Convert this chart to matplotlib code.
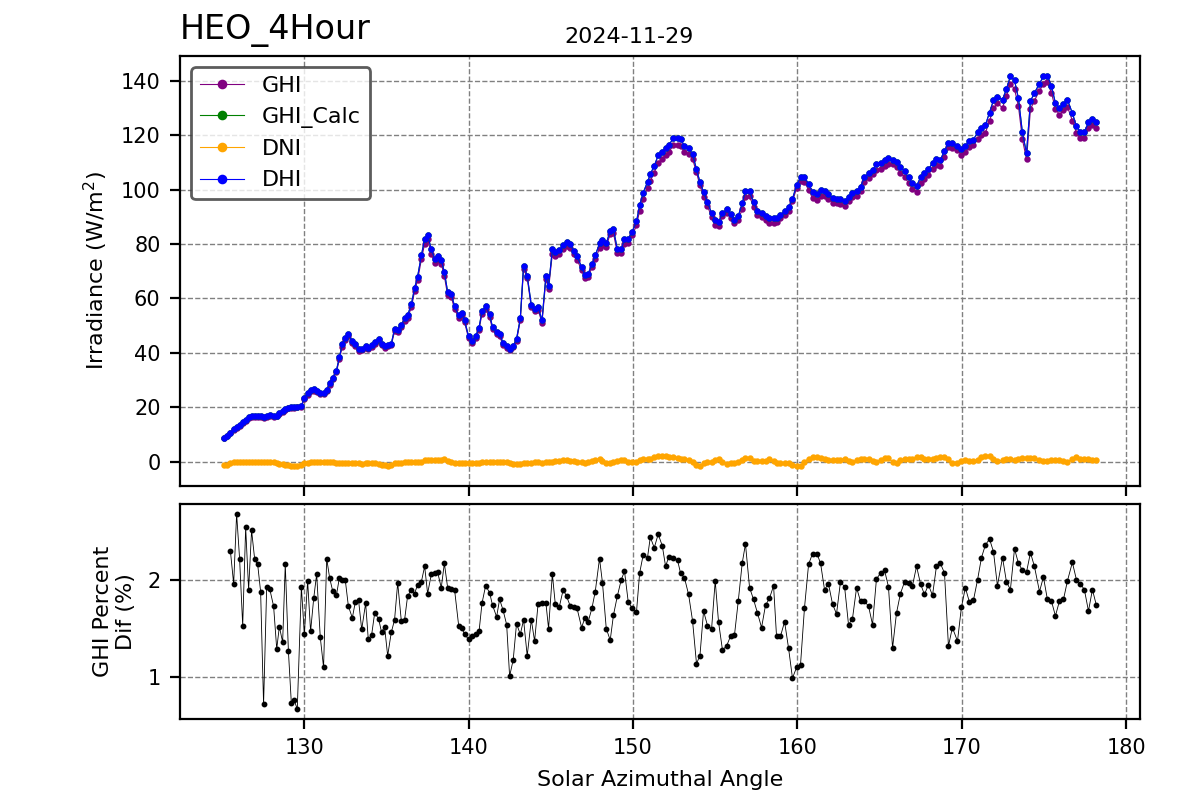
import numpy as np
import matplotlib
matplotlib.use("Agg")
import matplotlib.pyplot as plt
from matplotlib.ticker import MultipleLocator

site = "HEO_4Hour"
day = "2024-11-29"

azimuth = [125.09, 125.30, 125.50, 125.70, 125.88, 126.06, 126.25, 126.43, 126.61, 126.79,
           126.98, 127.16, 127.34, 127.52, 127.71, 127.89, 128.13, 128.32, 128.48, 128.68,
           128.84, 129.03, 129.21, 129.39, 129.57, 129.82, 130.00, 130.20, 130.38, 130.57,
           130.75, 130.97, 131.17, 131.36, 131.54, 131.72, 131.95, 132.13, 132.31, 132.49,
           132.68, 132.92, 133.10, 133.30, 133.49, 133.73, 133.89, 134.09, 134.28, 134.52,
           134.70, 134.88, 135.07, 135.29, 135.49, 135.68, 135.90, 136.10, 136.28, 136.51,
           136.71, 136.89, 137.12, 137.32, 137.50, 137.73, 137.93, 138.11, 138.33, 138.52,
           138.72, 138.94, 139.14, 139.39, 139.57, 139.75, 139.99, 140.20, 140.42, 140.63,
           140.81, 141.03, 141.27, 141.45, 141.70, 141.88, 142.09, 142.31, 142.49, 142.71,
           142.91, 143.14, 143.34, 143.56, 143.81, 144.01, 144.22, 144.46, 144.70, 144.86,
           145.09, 145.27, 145.51, 145.75, 145.96, 146.18, 146.38, 146.59, 146.87, 147.07,
           147.27, 147.50, 147.70, 147.96, 148.14, 148.37, 148.61, 148.81, 149.04, 149.28,
           149.48, 149.71, 149.95, 150.21, 150.40, 150.62, 150.88, 151.05, 151.29, 151.53,
           151.78, 151.98, 152.18, 152.46, 152.71, 152.89, 153.13, 153.38, 153.62, 153.86,
           154.07, 154.29, 154.53, 154.78, 155.00, 155.20, 155.44, 155.69, 155.93, 156.17,
           156.40, 156.64, 156.84, 157.09, 157.33, 157.57, 157.82, 158.06, 158.30, 158.55,
           158.73, 158.97, 159.22, 159.46, 159.70, 159.95, 160.19, 160.43, 160.68, 160.92,
           161.19, 161.41, 161.65, 161.89, 162.14, 162.38, 162.62, 162.87, 163.11, 163.35,
           163.60, 163.84, 164.08, 164.33, 164.57, 164.81, 165.06, 165.30, 165.54, 165.79,
           166.03, 166.27, 166.52, 166.76, 167.00, 167.25, 167.49, 167.73, 167.97, 168.22,
           168.46, 168.70, 168.95, 169.19, 169.43, 169.74, 169.98, 170.22, 170.47, 170.71,
           170.96, 171.20, 171.44, 171.69, 171.93, 172.17, 172.48, 172.72, 172.96, 173.21,
           173.45, 173.69, 173.94, 174.18, 174.42, 174.73, 174.97, 175.21, 175.46, 175.70,
           175.94, 176.19, 176.43, 176.73, 176.98, 177.22, 177.46, 177.71, 177.95, 178.19]

dhi = [8.7, 9.6, 10.7, 11.9, 12.6, 13.5, 14.5, 15.3, 16.3, 16.8,
       16.9, 16.9, 16.8, 16.3, 16.9, 17.1, 16.9, 17.0, 17.8, 18.5,
       19.3, 19.9, 20.0, 20.0, 20.1, 20.6, 23.5, 25.2, 26.5, 26.6,
       26.1, 25.3, 25.3, 26.4, 28.9, 30.9, 33.5, 38.4, 43.2, 45.6,
       47.0, 44.3, 43.3, 41.5, 41.6, 42.5, 41.9, 42.9, 44.0, 45.0,
       43.4, 42.6, 43.0, 43.4, 48.8, 48.5, 50.2, 52.7, 53.8, 57.8,
       63.9, 68.0, 75.8, 81.9, 83.3, 78.0, 74.6, 75.5, 74.2, 69.7,
       62.4, 61.8, 57.1, 53.8, 54.6, 52.0, 46.1, 44.3, 46.1, 49.3,
       55.4, 57.1, 54.2, 49.5, 47.6, 47.0, 43.7, 42.6, 41.4, 42.6,
       45.1, 52.7, 72.1, 68.4, 57.6, 56.1, 56.9, 52.0, 68.4, 64.5,
       78.0, 77.0, 77.7, 79.7, 80.7, 80.0, 77.5, 75.5, 71.6, 68.6,
       69.1, 72.6, 75.8, 80.2, 81.4, 80.2, 84.9, 85.4, 78.2, 78.2,
       81.7, 81.9, 84.6, 88.3, 94.2, 98.9, 102.8, 105.7, 108.7, 112.6,
       113.9, 115.3, 116.5, 118.8, 118.8, 118.5, 116.1, 115.3, 113.1, 107.5,
       102.8, 99.1, 95.4, 91.3, 88.8, 88.1, 91.3, 92.7, 91.0, 88.8,
       90.3, 94.9, 99.6, 99.4, 95.4, 92.2, 91.3, 90.3, 89.5, 89.5,
       89.5, 90.8, 92.0, 93.5, 96.6, 101.6, 104.5, 104.5, 102.1, 99.1,
       98.4, 99.9, 99.6, 98.4, 96.9, 96.6, 96.4, 95.7, 97.2, 98.9,
       99.6, 101.1, 104.5, 106.0, 107.2, 109.4, 109.9, 110.9, 111.6, 110.9,
       110.2, 108.2, 106.7, 104.5, 102.3, 101.3, 104.5, 106.0, 107.5, 109.7,
       111.2, 110.9, 114.3, 117.1, 117.1, 116.1, 114.8, 116.1, 117.8, 118.3,
       121.0, 122.7, 123.7, 128.3, 132.8, 134.2, 133.0, 137.0, 141.6, 140.1,
       133.5, 121.0, 113.4, 132.5, 135.5, 138.9, 141.6, 141.9, 137.9, 131.8,
       129.8, 131.5, 133.0, 128.1, 123.2, 121.2, 121.2, 124.7, 125.9, 124.7]

dni = [-1.3, -1.0, -0.3, -0.1, -0.1, -0.1, 0.0, 0.0, -0.1, -0.1,
       -0.1, -0.1, -0.1, 0.0, 0.0, 0.0, -0.2, -0.5, -0.8, -0.9,
       -1.0, -1.3, -1.6, -1.7, -1.6, -1.2, -0.6, -0.3, -0.1, -0.1,
       -0.1, -0.1, 0.0, -0.1, -0.1, -0.2, -0.3, -0.4, -0.4, -0.3,
       -0.4, -0.5, -0.6, -0.6, -0.7, -0.6, -0.6, -0.6, -0.5, -0.8,
       -1.1, -1.3, -1.4, -1.0, -0.6, -0.5, -0.4, -0.2, 0.0, 0.0,
       0.0, 0.1, 0.1, 0.5, 0.8, 0.7, 0.7, 0.5, 0.8, 0.9,
       0.3, -0.2, -0.3, -0.4, -0.5, -0.6, -0.6, -0.6, -0.5, -0.4,
       -0.2, 0.0, 0.0, -0.1, 0.0, 0.0, 0.0, -0.2, -0.5, -0.7,
       -0.8, -0.7, -0.6, -0.6, -0.4, -0.2, -0.2, -0.3, -0.1, 0.0,
       0.1, 0.3, 0.3, 0.5, 0.6, 0.4, 0.2, 0.0, -0.2, -0.3,
       -0.2, 0.3, 0.8, 0.9, 0.4, -0.4, -0.6, 0.0, 0.4, 0.6,
       0.5, -0.1, -0.2, 0.0, 0.6, 0.9, 1.0, 1.2, 1.6, 2.0,
       2.2, 2.0, 1.8, 1.8, 1.5, 1.2, 0.9, 0.6, 0.0, -1.0,
       -1.5, -0.5, -0.1, -0.1, 0.5, 0.9, 0.1, -0.7, -0.6, -0.5,
       0.0, 0.6, 1.5, 1.3, 0.4, 0.2, 0.2, 0.4, 1.0, 0.3,
       -0.3, -0.4, -0.3, -0.6, -1.2, -1.6, -1.4, 0.0, 1.2, 1.8,
       1.8, 1.5, 1.1, 0.8, 0.6, 0.5, 0.8, 1.1, 0.3, -0.1,
       0.5, 1.0, 1.1, 1.0, 0.3, -0.1, 0.8, 1.4, 1.3, 0.0,
       -0.3, 0.5, 1.0, 1.1, 1.1, 1.6, 1.6, 1.2, 1.1, 1.1,
       1.4, 1.7, 1.8, 1.2, -0.4, -0.6, 0.2, 0.5, 0.3, 0.2,
       0.8, 1.6, 2.0, 2.1, 1.2, 0.3, 0.5, 0.9, 0.9, 0.5,
       1.0, 1.4, 1.5, 1.5, 1.4, 0.8, 0.3, 0.2, 0.5, 0.6,
       0.6, 0.2, 0.0, 1.0, 1.8, 1.2, 0.9, 0.9, 0.5, 0.5]

# percent difference between GHI_Calc and GHI (first two samples have none)
pct_dif = [np.nan, np.nan,
           2.30, 1.96, 2.68, 2.22, 1.53, 2.54, 1.90, 2.51, 2.21, 2.16,
           1.88, 0.72, 1.93, 1.91, 1.73, 1.29, 1.52, 1.36, 2.16, 1.27,
           0.73, 0.76, 0.67, 1.93, 1.44, 1.99, 1.47, 1.81, 2.06, 1.41,
           1.10, 2.22, 2.02, 1.89, 1.84, 2.02, 2.00, 2.00, 1.73, 1.61,
           1.77, 1.79, 1.49, 1.76, 1.39, 1.43, 1.66, 1.60, 1.46, 1.52,
           1.22, 1.46, 1.59, 1.97, 1.58, 1.59, 1.83, 1.90, 1.86, 1.95,
           1.98, 2.14, 1.86, 2.06, 2.07, 2.08, 1.92, 2.17,
           1.92, 1.91, 1.90, 1.53, 1.51, 1.44, 1.39, 1.42, 1.44, 1.47,
           1.76, 1.94, 1.87, 1.74, 1.62, 1.80, 1.69, 1.54, 1.01, 1.18,
           1.55, 1.44, 1.59, 1.22, 1.59, 1.37, 1.75, 1.76, 1.76, 1.50,
           2.06, 1.75, 1.72, 1.90, 1.83, 1.73, 1.72, 1.71, 1.51, 1.61,
           1.57, 1.71, 1.88, 2.22, 1.97, 1.50, 1.38, 1.64, 1.83, 2.00,
           2.09, 1.77, 1.71, 1.67, 2.07, 2.26, 2.23, 2.44, 2.33, 2.47,
           2.35, 2.14, 2.24,
           2.23, 2.20, 2.07, 2.02, 1.85, 1.58, 1.14, 1.22, 1.68, 1.53,
           1.50, 1.99, 1.57, 1.28, 1.32, 1.42, 1.43, 1.78, 2.17, 2.37,
           1.92, 1.80, 1.66, 1.51, 1.74, 1.81, 1.94, 1.42, 1.42, 1.57,
           1.30, 0.99, 1.10, 1.13, 1.71, 2.16, 2.27, 2.27, 2.17, 1.90,
           1.96, 1.75, 1.65, 1.98, 1.93, 1.54, 1.60, 1.92, 1.78, 1.78,
           1.73, 1.54, 2.01, 2.07, 2.10, 1.93, 1.30,
           1.66, 1.86, 1.98, 1.97, 1.94, 2.14, 1.96, 1.85, 1.95, 1.84,
           2.14, 2.17, 2.07, 1.32, 1.51, 1.37, 1.72, 1.92, 1.77, 1.79,
           2.00, 2.23, 2.36, 2.42, 2.29, 1.94, 2.23, 1.98, 1.90, 2.32,
           2.17, 2.10, 2.08, 2.28, 2.14, 1.88, 2.03, 1.80, 1.78, 1.63,
           1.78, 1.80, 1.99, 2.18, 2.00, 1.96, 1.90, 1.68, 1.90, 1.74]

az = np.array(azimuth)
ghi_calc = np.array(dhi)
pct = np.array(pct_dif)
ghi = ghi_calc / (1 + np.nan_to_num(pct) / 100)

fig, (ax, ax2) = plt.subplots(2, 1, figsize=(6, 4), dpi=200, sharex=True,
                              gridspec_kw={'height_ratios': [2, 1]})
fig.subplots_adjust(left=0.15, right=0.95, top=0.93, bottom=0.10125, hspace=0.056)

style = dict(marker='o', markersize=1.3, linewidth=0.4)
ax.plot(az, ghi, color='purple', label='GHI', **style)
ax.plot(az, ghi_calc, color='green', label='GHI_Calc', **style)
ax.plot(az, dni, color='orange', label='DNI', **style)
ax.plot(az, dhi, color='blue', label='DHI', **style)

ax.set_title(site, loc='left', fontsize=12)
fig.text(0.524, 0.9466, day, ha='center', va='baseline', fontsize=8)
ax.set_ylabel('Irradiance (W/m$^2$)', fontsize=8)
ax.grid(True, linestyle='--', color='gray', linewidth=0.5)
ax.tick_params(labelsize=7.5)
leg = ax.legend(loc='upper left', fontsize=8, markerscale=1.9)
leg.get_frame().set_edgecolor('#333333')
leg.get_frame().set_linewidth(1.0)

ax2.plot(az, pct, color='black', marker='o', markersize=1.1, linewidth=0.3)
ax2.set_ylabel('GHI Percent\nDif (%)', fontsize=8)
ax2.set_xlabel('Solar Azimuthal Angle', fontsize=8)
ax2.yaxis.set_major_locator(MultipleLocator(1))
ax2.grid(True, linestyle='--', color='gray', linewidth=0.5)
ax2.tick_params(labelsize=7.5)

plt.savefig('out.png')
